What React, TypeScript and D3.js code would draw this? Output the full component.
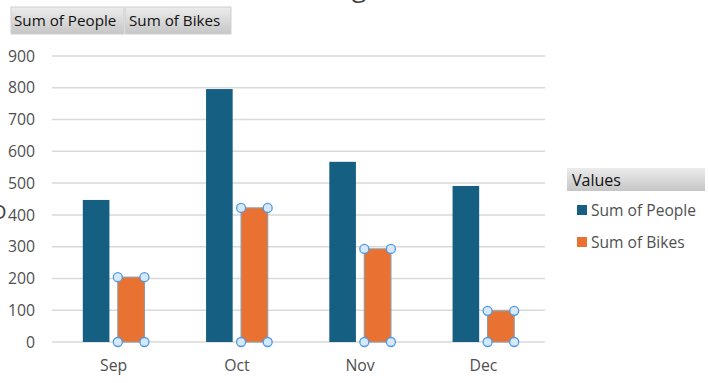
import React from "react";
import * as d3 from "d3";

const categories = ["Sep", "Oct", "Nov", "Dec"];
const seriesNames = ["Sum of People", "Sum of Bikes"];
const peopleValues = [447, 796, 567, 491];
const bikesValues = [204, 422, 293, 98];
const yTicks = [0, 100, 200, 300, 400, 500, 600, 700, 800, 900];

const W = 708;
const H = 383;
const colors = ["#156082", "#E97132"];
const FONT = "'Open Sans', 'DejaVu Sans', sans-serif";

export default function App() {
  const x = d3.scaleBand<string>().domain(categories).range([52, 545]).paddingInner(0.5).paddingOuter(0.25);
  const xInner = d3.scaleBand<string>().domain(seriesNames).range([0, x.bandwidth()]).paddingInner(0.24);
  const y = d3.scaleLinear().domain([0, 900]).range([342, 56]);
  const series = [peopleValues, bikesValues];

  return (
    <div style={{ position: "fixed", left: 0, top: 0, width: W, height: H, background: "#fff" }}>
      <svg width={W} height={H} style={{ display: "block", fontFamily: FONT }}>
        <defs>
          <linearGradient id="btn" x1="0" y1="0" x2="0" y2="1">
            <stop offset="0" stopColor="#ececec" />
            <stop offset="1" stopColor="#c6c6c6" />
          </linearGradient>
        </defs>
        <rect width={W} height={H} fill="#fff" />
        {/* cropped glyphs at edges */}
        <text x={352} y={-3} fontSize={26} fill="#404040" fontFamily={FONT}>g</text>
        <text x={-8} y={219} fontSize={20} fill="#404040" fontFamily={FONT}>D</text>

        {/* field buttons */}
        <rect x={11} y={7} width={113} height={27} fill="url(#btn)" stroke="#d0d0d0" />
        <rect x={125} y={7} width={106} height={27} fill="url(#btn)" stroke="#d0d0d0" />
        <text x={14} y={26} fontSize={15.2} fill="#111">Sum of People</text>
        <text x={129} y={26} fontSize={15.2} fill="#111">Sum of Bikes</text>

        {/* gridlines & y ticks */}
        {yTicks.map((t) => (
          <g key={t}>
            <line x1={52} x2={545} y1={y(t)} y2={y(t)} stroke="#d9d9d9" strokeWidth={1.5} />
            <text x={35} y={y(t)} dy="0.36em" textAnchor="end" fontSize={15.8} fill="#505050">{t}</text>
          </g>
        ))}

        {/* bars */}
        {categories.map((c, i) => (
          <g key={c}>
            {series.map((vals, s) => {
              const bx = (x(c) as number) + (xInner(seriesNames[s]) as number);
              const bw = xInner.bandwidth();
              return (
                <rect key={s} x={bx} y={y(vals[i])} width={bw} height={y(0) - y(vals[i])}
                  fill={colors[s]} stroke={s === 1 ? "#9a9a9a" : "none"} strokeWidth={1.2} />
              );
            })}
            <text x={(x(c) as number) + x.bandwidth() / 2} y={371} textAnchor="middle" fontSize={15.8} fill="#505050">{c}</text>
          </g>
        ))}

        {/* selection handles on bikes */}
        {categories.map((c, i) => {
          const bx = (x(c) as number) + (xInner(seriesNames[1]) as number);
          const bw = xInner.bandwidth();
          const pts = [
            [bx, y(bikesValues[i])], [bx + bw, y(bikesValues[i])],
            [bx, y(0)], [bx + bw, y(0)],
          ];
          return pts.map((p, k) => (
            <circle key={c + k} cx={p[0]} cy={p[1]} r={4.5} fill="#d6e8fa" stroke="#4f9ae0" strokeWidth={1.3} />
          ));
        })}

        {/* legend */}
        <rect x={567} y={168} width={138} height={23} fill="url(#btn)" />
        <text x={572} y={185.5} fontSize={16} fill="#111">Values</text>
        {seriesNames.map((n, s) => (
          <g key={n}>
            <rect x={577} y={205 + s * 32} width={10} height={10} fill={colors[s]} />
            <text x={591} y={210 + s * 32} dy="0.36em" fontSize={15.6} fill="#505050">{n}</text>
          </g>
        ))}
      </svg>
    </div>
  );
}
